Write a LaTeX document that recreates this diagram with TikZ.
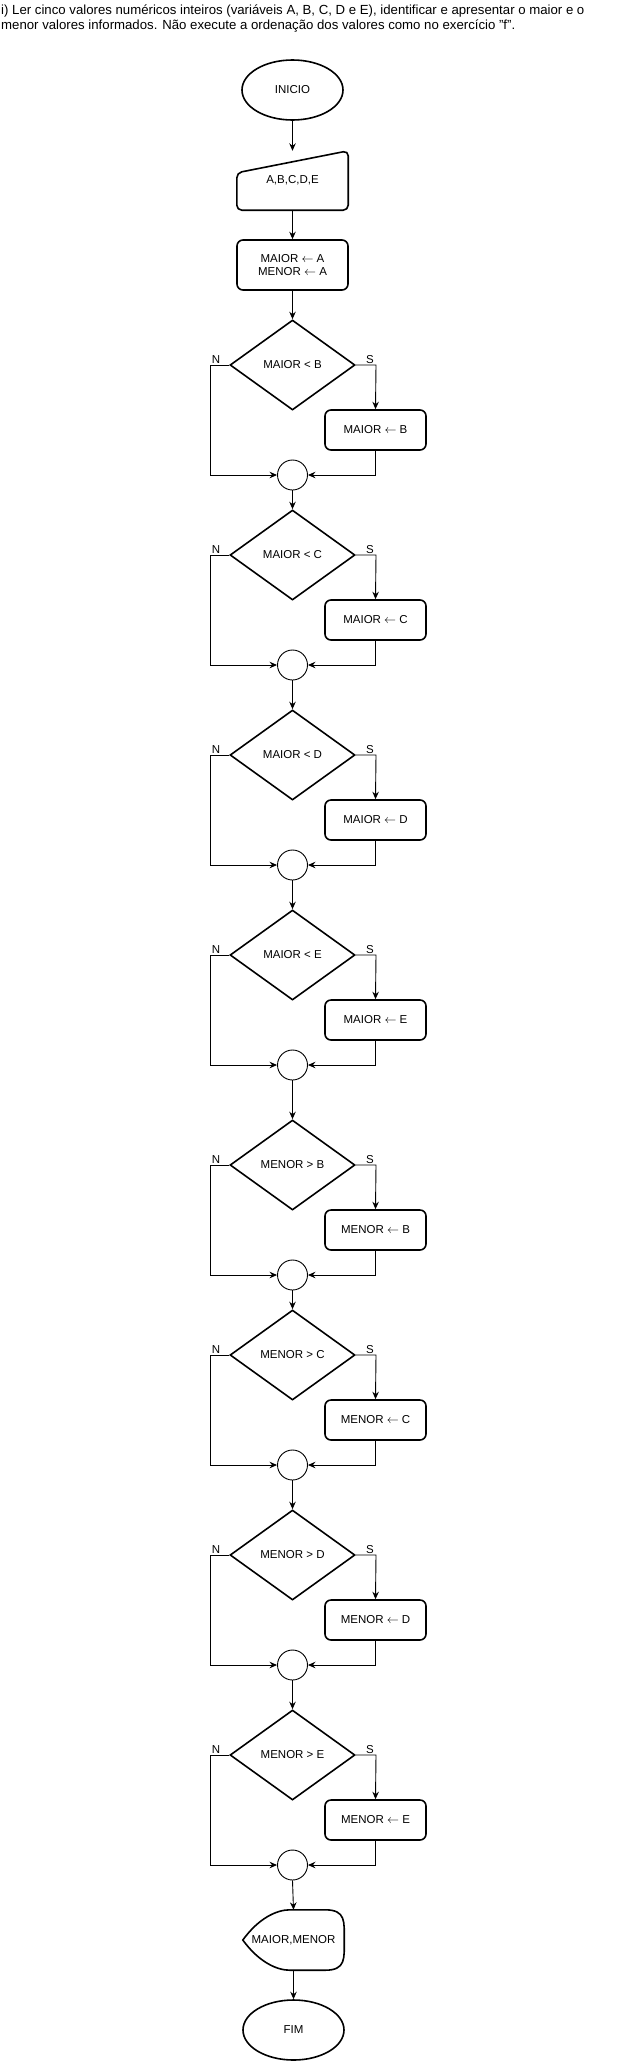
\documentclass[tikz,border=0pt]{standalone}
\usepackage{fontspec}
\setmainfont{Liberation Sans}
\usetikzlibrary{shapes.geometric,arrows.meta,calc}
\tikzset{
  shp/.style={draw=black,line width=1.6pt,font=\fontsize{11.5}{13.5}\selectfont,align=center,inner sep=0pt},
  term/.style={shp,ellipse,minimum width=101pt,minimum height=60pt},
  proc/.style={shp,rectangle,rounded corners=6pt,minimum width=101pt,minimum height=40pt},
  dec/.style={shp,diamond,minimum width=125pt,minimum height=90pt},
  junc/.style={draw=black,line width=0.9pt,circle,minimum size=30pt,inner sep=0pt},
  ghost/.style={rectangle,inner sep=0pt,font=\fontsize{11.5}{13.5}\selectfont,align=center},
  conn/.style={draw=black,line width=0.9pt,-{Stealth[length=7.5pt,width=6.5pt,inset=2.5pt]}},
  lbl/.style={font=\fontsize{11.5}{13}\selectfont,inner sep=1pt,anchor=south},
  hdr/.style={font=\fontsize{13.2}{15}\selectfont,anchor=base west,inner sep=0pt}
}
\begin{document}
\begin{tikzpicture}[x=1pt,y=-1pt]
\useasboundingbox[fill=white] (0,0) rectangle (631,2062);
\node[hdr] (h1) at (1,14.5) {i) Ler cinco valores numéricos inteiros (variáveis A, B, C, D e E), identificar e apresentar o maior e o};
\node[hdr] (h2) at (1,29.5) {menor valores informados. Não execute a ordenação dos valores como no exercício "f".};

\node[term] (ini) at (292.5,90) {INICIO};
\node[ghost,minimum width=111pt,minimum height=59pt] (inp) at (292.5,180.5) {A,B,C,D,E};
\draw[line width=1.6pt,rounded corners=5pt] ($(inp.north east)$) -- ($(inp.south east)$) -- ($(inp.south west)$) -- ($(inp.north west)+(0,22)$) -- cycle;
\node[proc,minimum width=111pt,minimum height=50pt] (pa) at (292.5,265) {MAIOR $\leftarrow$ A\\MENOR $\leftarrow$ A};
\draw[conn] (ini.south) -- (inp.north);
\draw[conn] (inp.south) -- (pa.north);

\foreach \i/\y/\t/\a in {1/365/MAIOR < B/MAIOR {$\leftarrow$} B,
                         2/555/MAIOR < C/MAIOR {$\leftarrow$} C,
                         3/755/MAIOR < D/MAIOR {$\leftarrow$} D,
                         4/955/MAIOR < E/MAIOR {$\leftarrow$} E,
                         5/1165/MENOR > B/MENOR {$\leftarrow$} B,
                         6/1355/MENOR > C/MENOR {$\leftarrow$} C,
                         7/1555/MENOR > D/MENOR {$\leftarrow$} D,
                         8/1755/MENOR > E/MENOR {$\leftarrow$} E}{
  \node[dec] (d\i) at (292.5,\y) {\t};
  \node[proc] (p\i) at (375.5,\y+65) {\a};
  \node[junc] (j\i) at (292.5,\y+110) {};
  \coordinate (nl\i) at (210.7,\y);
  \coordinate (sr\i) at (376,\y);
  \node[lbl] (n\i) at (216,\y) {N};
  \node[lbl] (s\i) at (370,\y) {S};
  \draw[conn] (d\i.west) -- (nl\i) |- (j\i.west);
  \draw[conn] (d\i.east) -- (sr\i) -- (p\i.north);
  \draw[conn] (p\i.south) |- (j\i.east);
}
\draw[conn] (pa.south) -- (d1.north);
\foreach \i/\k in {1/2,2/3,3/4,4/5,5/6,6/7,7/8}{
  \draw[conn] (j\i.south) -- (d\k.north);
}

\node[ghost,minimum width=101pt,minimum height=60pt] (disp) at (293.5,1940) {MAIOR,MENOR};
\draw[line width=1.6pt] (disp.west) .. controls ($(disp.west)+(16,-22)$) and ($(disp.north west)+(34,0)$) .. ($(disp.north west)+(47,0)$)
  -- ($(disp.north east)+(-19,0)$)
  .. controls ($(disp.north east)+(2,0)$) and ($(disp.east)+(0,-18)$) .. (disp.east)
  .. controls ($(disp.east)+(0,18)$) and ($(disp.south east)+(2,0)$) .. ($(disp.south east)+(-19,0)$)
  -- ($(disp.south west)+(47,0)$)
  .. controls ($(disp.south west)+(34,0)$) and ($(disp.west)+(16,22)$) .. (disp.west) -- cycle;
\node[term] (fim) at (293.5,2030) {FIM};
\draw[conn] (j8.south) -- (disp.north);
\draw[conn] (disp.south) -- (fim.north);
\end{tikzpicture}
\end{document}
